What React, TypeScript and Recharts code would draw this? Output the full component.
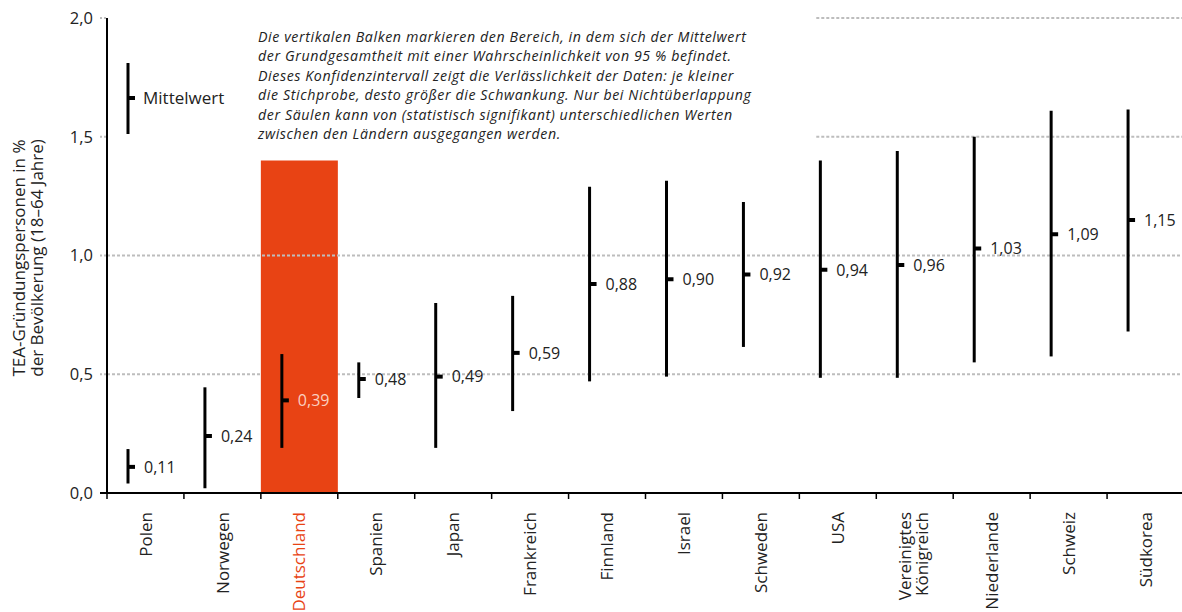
import React from 'react';
import { ComposedChart, Bar, XAxis, YAxis, ReferenceLine } from 'recharts';

const countries = ['Polen', 'Norwegen', 'Deutschland', 'Spanien', 'Japan', 'Frankreich', 'Finnland', 'Israel', 'Schweden', 'USA', 'Vereinigtes Königreich', 'Niederlande', 'Schweiz', 'Südkorea'];
const means = [0.11, 0.24, 0.39, 0.48, 0.49, 0.59, 0.88, 0.90, 0.92, 0.94, 0.96, 1.03, 1.09, 1.15];
const lows = [0.04, 0.02, 0.19, 0.40, 0.19, 0.345, 0.47, 0.49, 0.615, 0.485, 0.485, 0.55, 0.575, 0.68];
const highs = [0.185, 0.445, 0.585, 0.55, 0.80, 0.83, 1.29, 1.315, 1.225, 1.40, 1.44, 1.50, 1.61, 1.615];
const highlightCountry = 'Deutschland';
const highlightValue = 1.40;
const yTicks = [0, 0.5, 1, 1.5, 2];
const legendLow = 1.512;
const legendHigh = 1.811;
const legendMean = 1.663;
const legendText = 'Mittelwert';
const partialGridStart = 9.22;
const partialGridValues = [1.5, 2];
const yLabelLines = ['TEA-Gründungspersonen in %', 'der Bevölkerung (18–64 Jahre)'];
const noteLines = [
  'Die vertikalen Balken markieren den Bereich, in dem sich der Mittelwert',
  'der Grundgesamtheit mit einer Wahrscheinlichkeit von 95 % befindet.',
  'Dieses Konfidenzintervall zeigt die Verlässlichkeit der Daten: je kleiner',
  'die Stichprobe, desto größer die Schwankung. Nur bei Nichtüberlappung',
  'der Säulen kann von (statistisch signifikant) unterschiedlichen Werten',
  'zwischen den Ländern ausgegangen werden.',
];

const RED = '#e84314';
const TEXT = '#222';
const GRID = '#bdbdbd';
const FONT = '"Open Sans", "Noto Sans", sans-serif';

const data = countries.map((name, i) => ({
  name,
  pos: i + 0.5,
  mean: means[i],
  low: lows[i],
  high: highs[i],
  hl: name === highlightCountry ? highlightValue : null,
  legLow: i === 0 ? legendLow : null,
  legHigh: i === 0 ? legendHigh : null,
  legMean: i === 0 ? legendMean : null,
}));

// boundary ticks (integers) and label ticks (band centres)
const xTicks: number[] = [];
countries.forEach((_, i) => {
  xTicks.push(i, i + 0.5);
});
xTicks.push(countries.length);

const fmt2 = (v: number) => v.toFixed(2).replace('.', ',');
const fmt1 = (v: number) => v.toFixed(1).replace('.', ',');

const ErrShape = (p: any) => {
  const { x, y, width, height, payload } = p;
  if (payload == null || payload.low == null) return <g />;
  const top = Math.min(y, y + height);
  const h = Math.abs(height);
  const lx = x + width / 2 - 17.5;
  const my = top + (h * (payload.high - payload.mean)) / (payload.high - payload.low);
  const isHl = payload.name === highlightCountry;
  return (
    <g>
      <line x1={lx} x2={lx} y1={top} y2={top + h} stroke="#000" strokeWidth={3} />
      <line x1={lx} x2={lx + 7} y1={my} y2={my} stroke="#000" strokeWidth={4} />
      <text x={lx + 16} y={my} dy="0.36em" fontSize={16} fill={isHl ? '#fbd0c0' : TEXT} fontFamily={FONT}>
        {fmt2(payload.mean)}
      </text>
    </g>
  );
};

const LegShape = (p: any) => {
  const { x, y, width, height, payload } = p;
  if (payload == null || payload.legLow == null) return <g />;
  const top = Math.min(y, y + height);
  const h = Math.abs(height);
  const lx = x + width / 2 - 17.5;
  const my = top + (h * (payload.legHigh - payload.legMean)) / (payload.legHigh - payload.legLow);
  return (
    <g>
      <line x1={lx} x2={lx} y1={top} y2={top + h} stroke="#000" strokeWidth={3} />
      <line x1={lx} x2={lx + 7} y1={my} y2={my} stroke="#000" strokeWidth={4} />
      <text x={lx + 15} y={my} dy="0.36em" fontSize={17} fill={TEXT} fontFamily={FONT}>
        {legendText}
      </text>
    </g>
  );
};

const XTick = (p: any) => {
  const { x, y, payload } = p;
  const v: number = payload.value;
  if (Number.isInteger(v)) {
    return <line x1={x} x2={x} y1={y} y2={y + 6} stroke="#000" strokeWidth={1.5} />;
  }
  const name = countries[Math.floor(v)];
  if (!name) return <g />;
  const isHl = name === highlightCountry;
  const lines = name === 'Vereinigtes Königreich' ? ['Vereinigtes', 'Königreich'] : [name];
  return (
    <g transform={`translate(${x},${y + 19})`}>
      <text transform="rotate(-90)" textAnchor="end" fontSize={17} fill={isHl ? RED : TEXT} fontFamily={FONT}>
        {lines.map((l, i) => (
          <tspan key={i} x={0} dy={i === 0 ? (lines.length > 1 ? '-0.2em' : '0.36em') : '1.0em'}>
            {l}
          </tspan>
        ))}
      </text>
    </g>
  );
};

const YTick = (p: any) => {
  const { x, y, payload } = p;
  const zero = payload.value === 0;
  return (
    <g>
      <line
        x1={x + 7}
        x2={x + 14}
        y1={y}
        y2={y}
        stroke={zero ? '#000' : GRID}
        strokeWidth={2}
        strokeDasharray={zero ? undefined : '2 2'}
      />
      <text x={x} y={y} dy="0.36em" textAnchor="end" fontSize={16.5} fill={TEXT} fontFamily={FONT}>
        {fmt1(payload.value)}
      </text>
    </g>
  );
};

export default function App() {
  return (
    <div style={{ position: 'relative', width: 1182, height: 612, overflow: 'hidden', fontFamily: FONT, background: '#fff' }}>
      <style>{'body{margin:0;}'}</style>
      <ComposedChart
        width={1184}
        height={612}
        data={data}
        margin={{ top: 18, right: 0, bottom: 0, left: 0 }}
        barCategoryGap={0}
        barGap={0}
        style={{ fontFamily: FONT }}
      >
        <XAxis
          xAxisId="axis"
          dataKey="pos"
          type="number"
          domain={[0, countries.length]}
          ticks={xTicks}
          interval={0}
          height={119}
          tickSize={0}
          tickMargin={0}
          tickLine={false}
          tick={<XTick />}
          axisLine={{ stroke: '#000', strokeWidth: 2 }}
          allowDataOverflow
        />
        <XAxis xAxisId="zcat" dataKey="name" type="category" hide height={0} />
        <XAxis xAxisId="zerr" dataKey="name" type="category" hide height={0} />
        <XAxis xAxisId="zleg" dataKey="name" type="category" hide height={0} />
        <YAxis
          type="number"
          domain={[0, 2]}
          ticks={yTicks}
          width={107}
          interval={0}
          tickLine={false}
          tickSize={0}
          tickMargin={14}
          tick={<YTick />}
          axisLine={{ stroke: '#000', strokeWidth: 2 }}
          allowDataOverflow
        />
        <ReferenceLine xAxisId="axis" y={0.5} stroke={GRID} strokeWidth={2} strokeDasharray="3 2" zIndex={200} />
        <Bar xAxisId="zcat" dataKey="hl" fill={RED} isAnimationActive={false} zIndex={300} />
        <ReferenceLine xAxisId="axis" y={1} stroke={GRID} strokeWidth={2} strokeDasharray="3 2" zIndex={400} />
        {partialGridValues.map((v) => (
          <ReferenceLine
            key={v}
            xAxisId="axis"
            segment={[{ x: partialGridStart, y: v }, { x: countries.length, y: v }]}
            ifOverflow="visible"
            stroke={GRID}
            strokeWidth={2}
            strokeDasharray="3 2"
            zIndex={400}
          />
        ))}
        <Bar
          xAxisId="zerr"
          dataKey={(d: any) => [d.low, d.high]}
          shape={<ErrShape />}
          isAnimationActive={false}
          zIndex={600}
        />
        <Bar
          xAxisId="zleg"
          dataKey={(d: any) => (d.legLow == null ? null : [d.legLow, d.legHigh])}
          shape={<LegShape />}
          isAnimationActive={false}
          zIndex={600}
        />
      </ComposedChart>
      <svg width={1182} height={612} style={{ position: 'absolute', left: 0, top: 0, pointerEvents: 'none' }}>
        {yLabelLines.map((l, i) => (
          <text
            key={i}
            transform={`translate(${25 + i * 18},258) rotate(-90)`}
            textAnchor="middle"
            fontSize={17}
            fill={TEXT}
            fontFamily={FONT}
          >
            {l}
          </text>
        ))}
        {noteLines.map((l, i) => (
          <text
            key={i}
            x={258}
            y={42 + i * 19.4}
            fontSize={14.2}
            letterSpacing={0.6}
            fontStyle="italic"
            fill={TEXT}
            fontFamily={FONT}
          >
            {l}
          </text>
        ))}
      </svg>
    </div>
  );
}
